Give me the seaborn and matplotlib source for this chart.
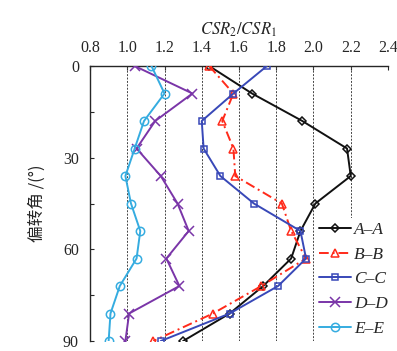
import numpy as np
import pandas as pd
import seaborn as sns
import matplotlib.pyplot as plt

# Data
angles = [0, 9, 18, 27, 36, 45, 54, 63, 72, 81, 90]
aa = [1.44, 1.67, 1.94, 2.18, 2.20, 2.01, 1.93, 1.88, 1.73, 1.55, 1.30]
bb = [1.44, 1.57, 1.51, 1.57, 1.58, 1.83, 1.88, 1.96, 1.72, 1.46, 1.14]
cc = [1.75, 1.57, 1.40, 1.41, 1.50, 1.68, 1.93, 1.96, 1.81, 1.55, 1.18]
dd = [1.04, 1.35, 1.15, 1.05, 1.18, 1.27, 1.33, 1.21, 1.28, 1.01, 0.99]
ee = [1.13, 1.20, 1.09, 1.04, 0.99, 1.02, 1.07, 1.05, 0.96, 0.91, 0.90]

names = ["A\u2013A", "B\u2013B", "C\u2013C", "D\u2013D", "E\u2013E"]
series = [aa, bb, cc, dd, ee]
colors = ["#111111", "#ff2a1a", "#3848b8", "#7a35a8", "#35ace0"]
markers = ["D", "^", "s", "x", "o"]
msizes = [4, 6, 5, 7, 6]
styles = ["-", (0, (5, 2, 1, 2)), "-", "-", "-"]

sns.set_style("ticks")
plt.rcParams['font.family'] = ['Liberation Serif', 'DejaVu Serif']
plt.rcParams['mathtext.fontset'] = 'stix'

fig = plt.figure(figsize=(3.97, 3.51), dpi=100)
ax = fig.add_axes([90 / 397, 1 - 341 / 351, (388 - 90) / 397, (341 - 66) / 351])

for name, vals, c, m, ms, ls in zip(names, series, colors, markers, msizes, styles):
    df = pd.DataFrame({"csr": vals, "angle": angles})
    sns.lineplot(data=df, x="csr", y="angle", orient="y", sort=False, estimator=None,
                 ax=ax, color=c, linestyle=ls, linewidth=1.4, marker=m, markersize=ms,
                 markerfacecolor="none", markeredgecolor=c, markeredgewidth=1.1,
                 label=name, zorder=3)

ax.set_xlim(0.8, 2.4)
ax.set_ylim(90, 0)
ax.set_xticks(np.arange(0.8, 2.41, 0.2))
ax.set_xticklabels([f"{v:.1f}" for v in np.arange(0.8, 2.41, 0.2)])
ax.set_yticks([0, 30, 60, 90])
ax.set_yticks([15, 45, 75], minor=True)
ax.xaxis.tick_top()
ax.xaxis.set_label_position("top")
ax.tick_params(axis="both", which="both", direction="in", labelsize=11.5, length=3, width=0.8)
ax.tick_params(axis="x", pad=7)
ax.tick_params(axis="y", pad=8)

for v in np.arange(1.0, 2.41, 0.2):
    ax.axvline(v, color="#444444", linestyle=(0, (2, 1.5)), linewidth=0.7, zorder=1)

ax.spines["right"].set_visible(False)
ax.spines["bottom"].set_visible(False)
ax.spines["left"].set_linewidth(1.0)
ax.spines["top"].set_linewidth(1.0)

ax.set_xlabel(r"$CSR_2/CSR_1$", fontsize=12, labelpad=4)
ax.set_ylabel("偏转角 /(°)", fontsize=12, family=['Noto Sans CJK SC', 'DejaVu Sans'], labelpad=12)

leg = ax.legend(loc="lower right", bbox_to_anchor=(1.04, -0.03), frameon=True, fancybox=False,
                edgecolor="none", framealpha=1, handlelength=1.8, handletextpad=0.2,
                labelspacing=0.5, borderpad=0.2, prop={"family": "Liberation Serif",
                                                       "style": "italic", "size": 12.5})

fig.savefig("out.png", dpi=100)
